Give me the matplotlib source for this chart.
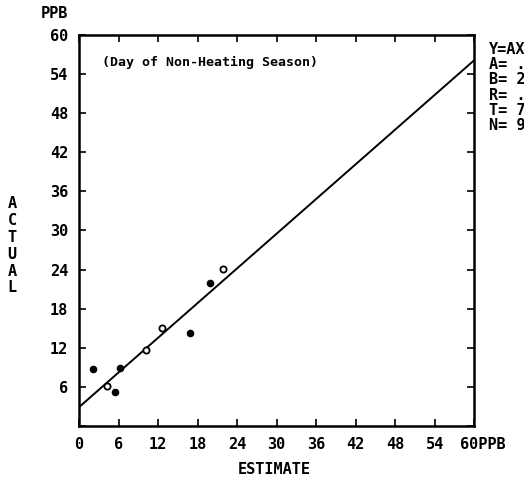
import matplotlib
matplotlib.use("Agg")
import matplotlib.pyplot as plt
import numpy as np

# readings (ppb)
estimate = [2.1, 4.2, 5.5, 6.2, 10.2, 12.6, 16.9, 19.9, 21.8]
actual = [8.8, 6.2, 5.2, 8.9, 11.7, 15.0, 14.3, 22.0, 24.1]
filled = [True, False, True, True, False, False, True, True, False]

# fitted line Y = A*X + B
fit_a = 0.887
fit_b = 2.9

ticks = [0, 6, 12, 18, 24, 30, 36, 42, 48, 54, 60]
stats_text = ["Y=AX", "A= .", "B= 2", "R= .", "T= 7", "N= 9"]

plt.rcParams['font.family'] = ['DejaVu Sans Mono']
plt.rcParams['font.weight'] = 'bold'

fig = plt.figure(figsize=(5.24, 4.87), dpi=100)
ax = fig.add_axes([0.151, 0.1253, 0.754, 0.803])

xs = np.array([0, 60])
ax.plot(xs, fit_a * xs + fit_b, color='black', lw=1.4)

est = np.array(estimate)
act = np.array(actual)
mask = np.array(filled)
ax.scatter(est[mask], act[mask], s=20, c='black', zorder=3)
ax.scatter(est[~mask], act[~mask], s=20, facecolors='white', edgecolors='black',
           linewidths=1.3, zorder=3)

ax.set_xlim(0, 60)
ax.set_ylim(0, 60)
ax.set_xticks(ticks)
ax.set_yticks(ticks)
ax.set_xticklabels([str(t) for t in ticks[:-1]] + [''])
ax.set_yticklabels([''] + [str(t) for t in ticks[1:]])
ax.tick_params(direction='in', length=5, width=1.2, top=True, right=True,
               labelsize=11, pad=8)
for sp in ax.spines.values():
    sp.set_linewidth(1.8)

ax.annotate('60PPB', xy=(60, 0), xycoords='data', xytext=(-10, -8),
            textcoords='offset points', ha='left', va='top',
            fontsize=11, fontweight='bold')
ax.annotate('PPB', xy=(0, 60), xycoords='data', xytext=(-18, 10),
            textcoords='offset points', ha='center', va='bottom',
            fontsize=11, fontweight='bold')

ax.text(0.058, 0.93, '(Day of Non-Heating Season)', transform=ax.transAxes,
        fontsize=9.5, fontweight='bold', va='center')

fig.text(0.523, 0.035, 'ESTIMATE', ha='center', va='center',
         fontsize=11, fontweight='bold')
fig.text(0.023, 0.495, '\n'.join('ACTUAL'), ha='center', va='center',
         fontsize=11, fontweight='bold', linespacing=1.15)

for i, s in enumerate(stats_text):
    fig.text(0.933, 0.899 - i * 0.0315, s, ha='left', va='center',
             fontsize=11, fontweight='bold')

plt.savefig('out.png', dpi=100)
